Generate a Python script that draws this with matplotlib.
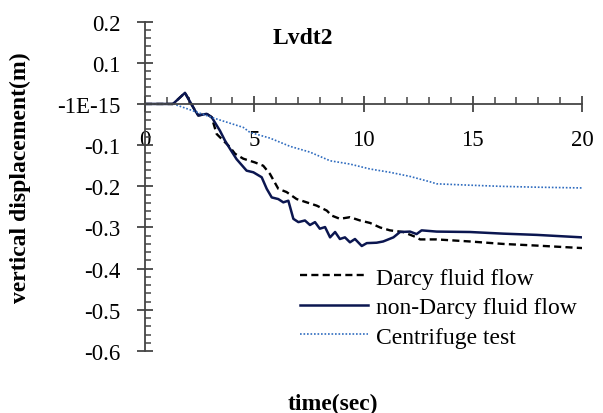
import matplotlib
matplotlib.use("Agg")
import matplotlib.pyplot as plt
from matplotlib.ticker import MultipleLocator, FixedLocator, FixedFormatter

# ---- data ----
nondarcy_t = [0, 1.28, 1.83, 2.29, 2.44, 2.82, 3.05, 3.43, 3.66, 3.89, 4.19, 4.65, 4.96, 5.34,
              5.57, 5.8, 6.1, 6.33, 6.56, 6.79, 7.02, 7.32, 7.55, 7.78, 8.0, 8.24, 8.47, 8.7,
              8.92, 9.15, 9.38, 9.61, 9.92, 10.15, 10.6, 10.9, 11.37, 11.67, 12.13, 12.43,
              12.66, 13.35, 14.87, 16.4, 17.93, 20.0]
nondarcy_v = [0, 0, 0.027, -0.016, -0.028, -0.024, -0.032, -0.065, -0.089, -0.109, -0.134,
              -0.162, -0.166, -0.178, -0.206, -0.227, -0.231, -0.239, -0.235, -0.279, -0.287,
              -0.283, -0.294, -0.287, -0.303, -0.299, -0.324, -0.311, -0.328, -0.324, -0.336,
              -0.328, -0.345, -0.338, -0.337, -0.334, -0.324, -0.311, -0.31, -0.316, -0.307,
              -0.31, -0.311, -0.315, -0.318, -0.324]

darcy_t = [0, 1.28, 1.83, 2.29, 2.44, 2.82, 3.05, 3.28, 3.89, 4.12, 4.5, 5.03, 5.41, 5.72,
           6.1, 6.48, 6.94, 7.4, 7.86, 8.32, 8.54, 8.92, 9.38, 9.84, 10.3, 10.76, 11.21,
           11.82, 12.43, 12.59, 13.35, 14.87, 16.4, 17.93, 20.0]
darcy_v = [0, 0, 0.027, -0.016, -0.028, -0.024, -0.032, -0.073, -0.105, -0.121, -0.133,
           -0.142, -0.15, -0.17, -0.206, -0.214, -0.231, -0.239, -0.247, -0.259, -0.271,
           -0.279, -0.275, -0.283, -0.289, -0.3, -0.307, -0.311, -0.324, -0.329, -0.329,
           -0.334, -0.34, -0.344, -0.35]

centrifuge_t = [0, 1.3, 3.13, 4.5, 4.8, 5.72, 6.64, 7.55, 8.47, 9.38, 10.3, 11.21, 12.13,
                13.04, 13.35, 14.72, 16.25, 17.77, 20.0]
centrifuge_v = [0, 0, -0.034, -0.057, -0.069, -0.083, -0.103, -0.117, -0.138, -0.146, -0.158,
                -0.166, -0.176, -0.189, -0.194, -0.197, -0.2, -0.202, -0.204]

y_ticks = [0.2, 0.1, 0.0, -0.1, -0.2, -0.3, -0.4, -0.5, -0.6]
y_tick_labels = ["0.2", "0.1", "-1E-15", "-0.1", "-0.2", "-0.3", "-0.4", "-0.5", "-0.6"]
x_ticks = [0, 5, 10, 15, 20]
x_tick_labels = ["0", "5", "10", "15", "20"]

series_labels = ["Darcy fluid flow", "non-Darcy fluid flow", "Centrifuge test"]

# ---- figure ----
plt.rcParams['font.family'] = ['Liberation Serif', 'DejaVu Serif']
fig = plt.figure(figsize=(6.03, 4.14), dpi=100)
ax = fig.add_axes([145/603, 1-352/414, (582-145)/603, (352-22.6)/414])

AX_COL = '#454545'

l1, = ax.plot(darcy_t, darcy_v, color='black', lw=1.7, ls=(0, (3, 1.8)))
l2, = ax.plot(nondarcy_t, nondarcy_v, color='#0b1650', lw=1.8)
l3, = ax.plot(centrifuge_t, centrifuge_v, color='#2f6cbf', lw=1.2, ls=(0, (1, 1.1)))

ax.set_xlim(0, 20)
ax.set_ylim(-0.6, 0.2)

for s in ['top', 'right']:
    ax.spines[s].set_visible(False)
ax.spines['bottom'].set_position(('data', 0))
for s in ['left', 'bottom']:
    ax.spines[s].set_color(AX_COL)
    ax.spines[s].set_linewidth(1.3)

ax.xaxis.set_major_locator(FixedLocator(x_ticks))
ax.xaxis.set_major_formatter(FixedFormatter(x_tick_labels))
ax.xaxis.set_minor_locator(MultipleLocator(1))
ax.yaxis.set_major_locator(FixedLocator(y_ticks))
ax.yaxis.set_major_formatter(FixedFormatter(y_tick_labels))
ax.yaxis.set_minor_locator(MultipleLocator(0.02))

ax.tick_params(axis='x', which='major', direction='inout', length=12, width=1.3,
               color=AX_COL, labelsize=16.5, pad=12)
ax.tick_params(axis='x', which='minor', direction='in', length=5, width=1.1, color=AX_COL)
ax.tick_params(axis='y', which='major', direction='inout', length=11, width=1.3,
               color=AX_COL, labelsize=16.5, pad=12)
ax.tick_params(axis='y', which='minor', direction='in', length=4, width=1.1, color=AX_COL)

fig.text(303/603, 1-38/414, "Lvdt2", ha='center', va='center', fontsize=17, fontweight='bold')
fig.text(20/603, 1-178/414, "vertical displacement(m)", rotation=90, ha='center', va='center',
         fontsize=17, fontweight='bold')
fig.text(333/603, 1-404/414, "time(sec)", ha='center', va='center', fontsize=17,
         fontweight='bold')

fig.legend([l1, l2, l3], series_labels, loc='upper left', bbox_to_anchor=(300/603, 1-268/414),
           frameon=False, fontsize=17, handlelength=2.9, handletextpad=0.3,
           labelspacing=0.34, borderpad=0, borderaxespad=0)

fig.savefig("out.png", dpi=100)
